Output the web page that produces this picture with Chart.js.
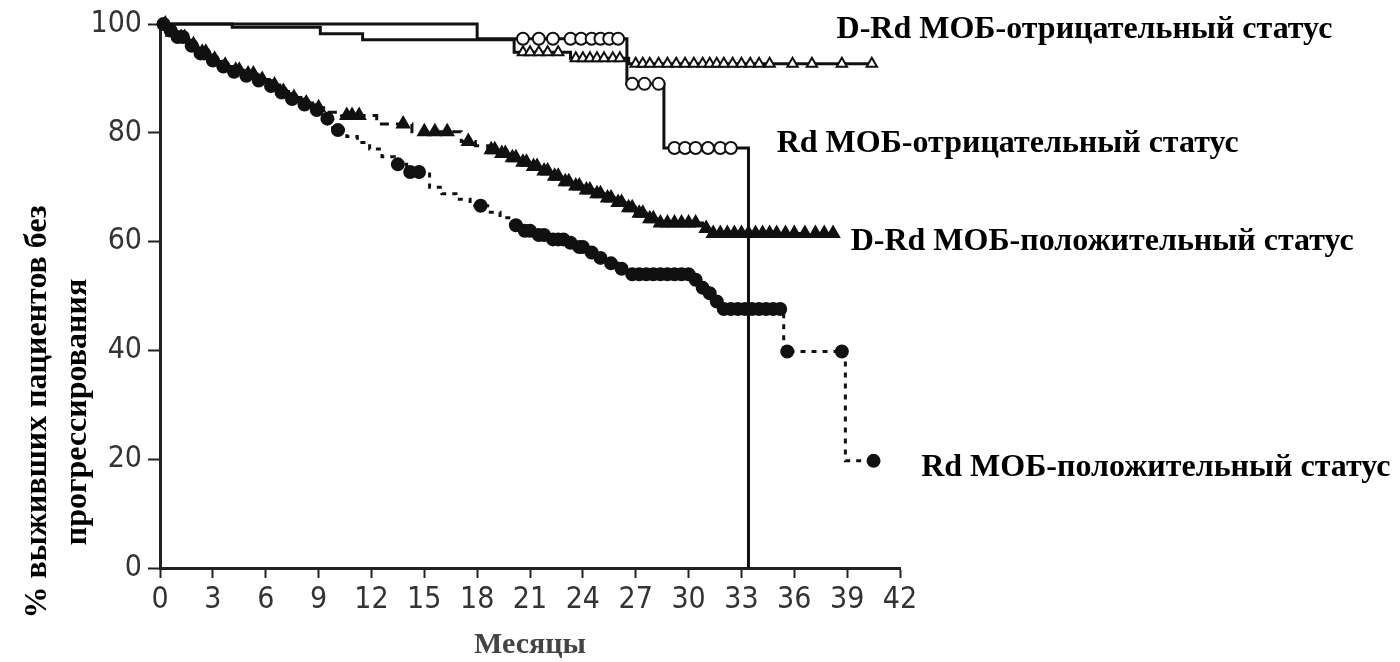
<!DOCTYPE html>
<html>
<head>
<meta charset="utf-8">
<title>Выживаемость без прогрессирования по МОБ-статусу</title>
<script src="https://cdn.jsdelivr.net/npm/chart.js@4.4.1/dist/chart.umd.min.js"></script>
<style>
  html, body { margin: 0; padding: 0; background: #fff; }
  #wrap { width: 1400px; height: 662px; }
</style>
</head>
<body>
<div id="wrap"><canvas id="km_chart" width="1400" height="662"></canvas></div>
<script>
// axis ticks
var xTicks = [0, 3, 6, 9, 12, 15, 18, 21, 24, 27, 30, 33, 36, 39, 42];
var yTicks = [0, 20, 40, 60, 80, 100];

var seriesNames = [
  'D-Rd МОБ-отрицательный статус',
  'Rd МОБ-отрицательный статус',
  'D-Rd МОБ-положительный статус',
  'Rd МОБ-положительный статус'
];
var xTitle = 'Месяцы';
var yTitle = ['% выживших пациентов без', 'прогрессирования'];

// D-Rd, MRD-negative: event times (months) and survival (%)
var drdNegTimes = [0, 4.1, 9.1, 11.5, 20.1, 23.3, 26.6];
var drdNegSurv  = [100, 99.4, 98.2, 97.1, 94.8, 93.7, 92.7];
var drdNegEnd = 40.5;
var drdNegCensor = [20.6, 21.0, 21.5, 22.0, 22.6, 23.6, 24.0, 24.4, 24.8, 25.2, 25.7, 26.1,
  27.0, 27.4, 27.8, 28.3, 28.8, 29.3, 29.8, 30.3, 30.8, 31.2, 31.6, 32.0, 32.5, 33.0, 33.5,
  34.0, 34.6, 35.9, 37.0, 38.7, 40.4];

// Rd, MRD-negative
var rdNegTimes = [0, 18.0, 26.5, 28.6, 33.4];
var rdNegSurv  = [100, 97.3, 89.0, 77.2, 0];
var rdNegEnd = 33.4;
var rdNegCensor = [20.6, 21.5, 22.3, 23.3, 23.9, 24.5, 25.0, 25.5, 26.0, 26.8, 27.5, 28.3,
  29.2, 29.8, 30.4, 31.1, 31.8, 32.4];

// D-Rd, MRD-positive
var drdPosTimes = [0, 0.5, 1.0, 1.6, 2.2, 2.8, 3.4, 4.0, 4.7, 5.5, 6.2, 6.8, 7.3, 8.0, 8.8, 9.6,
  10.3, 12.3, 14.3, 17.1, 17.9, 18.6, 19.2, 19.8, 20.4, 21.0, 21.6, 22.2, 22.8, 23.4, 24.0,
  24.6, 25.2, 25.8, 26.4, 27.0, 27.6, 28.2, 30.8, 31.2];
var drdPosSurv  = [100, 98.5, 97.5, 96.2, 94.8, 93.5, 92.4, 91.5, 90.8, 89.8, 88.8, 87.6, 86.5,
  85.5, 84.6, 83.8, 83.2, 81.6, 80.2, 78.4, 77.6, 76.9, 76.2, 75.4, 74.6, 73.8, 73.0, 72.0,
  71.0, 70.2, 69.5, 68.8, 68.0, 67.2, 66.2, 65.2, 64.2, 63.4, 62.4, 61.5];
var drdPosEnd = 38.2;
var drdPosCensor = [0.3, 0.7, 1.2, 1.4, 1.9, 2.4, 2.6, 3.1, 3.7, 4.3, 4.5, 5.0, 5.3, 5.8, 6.5,
  7.0, 7.6, 8.3, 9.0, 10.6, 10.9, 11.3, 13.8, 15.0, 15.6, 16.3, 17.5, 18.8, 19.0, 19.4, 19.6,
  20.0, 20.2, 20.6, 20.8, 21.2, 21.4, 21.8, 22.0, 22.4, 22.6, 23.0, 23.2, 23.6, 23.8, 24.2,
  24.4, 24.8, 25.0, 25.4, 25.6, 26.0, 26.2, 26.6, 26.8, 27.2, 27.4, 27.8, 28.0, 28.4, 28.8,
  29.2, 29.6, 30.0, 30.4, 31.0, 31.4, 31.8, 32.2, 32.6, 33.0, 33.4, 33.8, 34.2, 34.6, 35.0,
  35.5, 36.0, 36.6, 37.2, 37.7, 38.2];

// Rd, MRD-positive
var rdPosTimes = [0, 0.4, 0.9, 1.5, 2.1, 2.7, 3.3, 4.0, 4.7, 5.4, 6.1, 6.7, 7.2, 7.9, 8.6, 9.3,
  9.8, 10.6, 11.2, 11.9, 12.6, 13.3, 14.0, 15.3, 16.0, 16.8, 17.6, 18.6, 19.3, 19.9, 20.5,
  21.2, 22.0, 23.0, 23.6, 24.2, 24.8, 25.4, 26.0, 26.6, 30.2, 30.6, 31.0, 31.4, 31.8, 35.4, 38.9];
var rdPosSurv  = [100, 98.8, 97.6, 96.0, 94.6, 93.3, 92.2, 91.2, 90.5, 89.6, 88.6, 87.4, 86.2,
  85.2, 84.2, 82.6, 80.5, 79.3, 78.2, 77.0, 75.6, 74.2, 72.8, 70.0, 68.8, 67.8, 66.6, 65.4,
  64.4, 63.0, 62.0, 61.2, 60.4, 59.8, 59.0, 58.0, 57.0, 56.0, 55.0, 54.0, 53.0, 51.5, 50.5,
  49.0, 47.6, 39.8, 19.7];
var rdPosEnd = 40.5;
var rdPosCensor = [0.2, 0.6, 1.0, 1.3, 1.8, 2.3, 2.5, 3.0, 3.6, 4.2, 4.9, 5.6, 6.3, 6.9, 7.5,
  8.2, 8.9, 9.5, 10.1, 13.5, 14.2, 14.7, 18.2, 20.2, 20.7, 21.0, 21.5, 21.8, 22.3, 22.6, 22.9,
  23.3, 23.8, 24.0, 24.5, 25.0, 25.6, 26.2, 26.8, 27.2, 27.6, 28.0, 28.4, 28.8, 29.2, 29.6,
  30.0, 30.4, 30.8, 31.2, 31.6, 32.0, 32.4, 32.8, 33.2, 33.6, 34.0, 34.4, 34.8, 35.2, 35.6,
  38.7, 40.5];

function kmPoints(times, surv, endT) {
  var pts = [];
  for (var i = 0; i < times.length; i++) pts.push({x: times[i], y: surv[i]});
  pts.push({x: endT, y: surv[surv.length - 1]});
  return pts;
}

function survAt(times, surv, t) {
  var v = surv[0];
  for (var i = 0; i < times.length; i++) {
    if (times[i] <= t) v = surv[i];
  }
  return v;
}

function censorPoints(times, surv, marks) {
  return marks.map(function(t) { return {x: t, y: survAt(times, surv, t)}; });
}

var INK = '#111';

function curve(pts, dash) {
  return {
    type: 'line', data: pts, stepped: 'before', borderColor: INK, borderWidth: 3,
    borderDash: dash, pointRadius: 0, fill: false, clip: false, order: 2
  };
}

function marks(pts, style, filled, r) {
  return {
    type: 'scatter', data: pts, showLine: false, pointStyle: style, pointRadius: r,
    pointBorderWidth: 2, pointBorderColor: INK,
    pointBackgroundColor: filled ? INK : '#fff', clip: false, order: 1
  };
}

var tickFont = {family: "'Liberation Sans Narrow', 'DejaVu Sans Condensed', 'Liberation Sans', Arial, sans-serif", size: 30};
var serifBold = '"Liberation Serif", "Times New Roman", serif';

var textPlugin = {
  id: 'kmText',
  afterDraw: function(chart) {
    var ctx = chart.ctx, xs = chart.scales.x, ys = chart.scales.y;
    ctx.save();
    ctx.fillStyle = '#000';
    ctx.font = 'bold 32px ' + serifBold;
    ctx.textBaseline = 'middle';
    ctx.textAlign = 'left';
    var spots = [[38.4, 99], [35.0, 78], [39.2, 60], [43.2, 18.4]];
    for (var i = 0; i < seriesNames.length; i++) {
      ctx.fillText(seriesNames[i], xs.getPixelForValue(spots[i][0]), ys.getPixelForValue(spots[i][1]));
    }
    // y title, two rotated lines
    var cols = [38, 78];
    for (var j = 0; j < yTitle.length; j++) {
      ctx.save();
      ctx.translate(cols[j], 412);
      ctx.rotate(-Math.PI / 2);
      ctx.textAlign = 'center';
      ctx.fillText(yTitle[j], 0, 0);
      ctx.restore();
    }
    // x title
    ctx.fillStyle = '#444';
    ctx.font = 'bold 30px ' + serifBold;
    ctx.textAlign = 'center';
    ctx.fillText(xTitle, (xs.left + xs.right) / 2, 645);
    ctx.restore();
  }
};

new Chart(document.getElementById('km_chart'), {
  data: {
    datasets: [
      curve(kmPoints(drdNegTimes, drdNegSurv, drdNegEnd), []),
      curve(kmPoints(rdNegTimes, rdNegSurv, rdNegEnd), []),
      curve(kmPoints(drdPosTimes, drdPosSurv, drdPosEnd), [9, 7]),
      curve(kmPoints(rdPosTimes, rdPosSurv, rdPosEnd), [5, 6]),
      marks(censorPoints(drdNegTimes, drdNegSurv, drdNegCensor), 'triangle', false, 6),
      marks(censorPoints(rdNegTimes, rdNegSurv, rdNegCensor), 'circle', false, 6),
      marks(censorPoints(drdPosTimes, drdPosSurv, drdPosCensor), 'triangle', true, 7),
      marks(censorPoints(rdPosTimes, rdPosSurv, rdPosCensor), 'circle', true, 6)
    ]
  },
  options: {
    responsive: false,
    animation: false,
    layout: {padding: {top: 20, right: 500, bottom: 0, left: 0}},
    plugins: {legend: {display: false}, tooltip: {enabled: false}},
    scales: {
      x: {
        type: 'linear', min: 0, max: 42,
        afterBuildTicks: function(s) { s.ticks = xTicks.map(function(v) { return {value: v}; }); },
        afterFit: function(s) { s.height = 94; },
        ticks: {font: tickFont, color: '#333', padding: 4, maxRotation: 0, autoSkip: false},
        grid: {drawOnChartArea: false, drawTicks: true, tickLength: 10, tickWidth: 2, tickColor: '#222'},
        border: {display: true, color: '#222', width: 3}
      },
      y: {
        type: 'linear', min: 0, max: 100,
        afterBuildTicks: function(s) { s.ticks = yTicks.map(function(v) { return {value: v}; }); },
        afterFit: function(s) { s.width = 160; },
        ticks: {font: tickFont, color: '#333', padding: 6, autoSkip: false},
        grid: {drawOnChartArea: false, drawTicks: true, tickLength: 12, tickWidth: 2, tickColor: '#222'},
        border: {display: true, color: '#222', width: 3}
      }
    }
  },
  plugins: [textPlugin]
});
</script>
</body>
</html>
